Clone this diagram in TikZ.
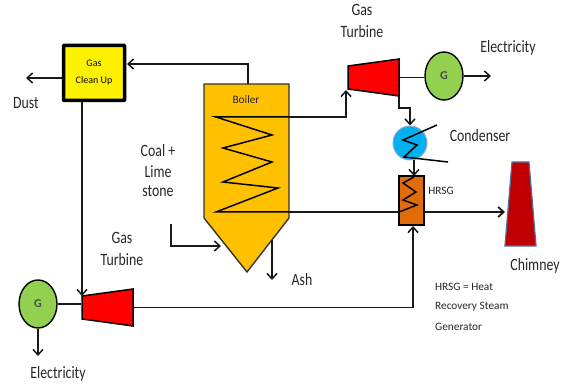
\documentclass[tikz,border=0pt]{standalone}
\usepackage{fontspec}
\setmainfont{Carlito}
\newfontfamily\narrowfont[FakeStretch=0.8]{Carlito}
\usetikzlibrary{positioning, arrows.meta, shapes.geometric}

\definecolor{boilerorange}{HTML}{FFC000}
\definecolor{hrsgorange}{HTML}{E36C0A}
\definecolor{genGreen}{HTML}{92D050}
\definecolor{condBlue}{HTML}{00B0F0}
\definecolor{stackRed}{HTML}{C00000}
\definecolor{stackEdge}{HTML}{4F6F9F}
\definecolor{labelInk}{HTML}{262626}

\begin{document}
\begin{tikzpicture}[
    x=1pt, y=-1pt,
    label/.style={font=\narrowfont\fontsize{17.3}{20}\selectfont, text=labelInk, align=center, inner sep=0pt},
    small/.style={font=\fontsize{11.3}{13}\selectfont, text=labelInk, inner sep=0pt},
    turbine/.style={trapezium, draw=black, fill=red, line width=1.5pt, rotate=90, trapezium left angle=82.2, trapezium right angle=82.2, inner xsep=11.5pt, inner ysep=25.5pt},
    generator/.style={ellipse, draw=black, fill=genGreen, line width=1.4pt, minimum width=38pt, minimum height=48pt, inner sep=0pt, font=\fontsize{12}{14}\selectfont\bfseries, text=black!70},
    pipe/.style={line width=1.5pt, draw=black!90},
    arrow/.style={pipe, -{Straight Barb[length=5.5pt, width=10pt]}},
    coil/.style={line width=1.5pt, draw=black}
]
    \useasboundingbox (0,0) rectangle (568,387);

    % equipment
    \node [rectangle, draw=black, fill=yellow, line width=3.5pt, rounded corners=0.5pt, minimum width=61pt, minimum height=55pt, inner sep=0pt, align=center, font=\fontsize{10}{17}\selectfont] (cleanup) at (94,73) {Gas\\Clean Up};
    \draw [draw=black!80, fill=boilerorange, line width=1.4pt] (204,84) coordinate (boilerTL) -- (248,84) coordinate (boilerOut) -- (289,84) coordinate (boilerTR) -- (289,218) -- (247,272) coordinate (boilerTip) -- (204,218) -- cycle;
    \node [small] (boiler) at (246,100) {Boiler};
    \node [turbine] (turbineA) at (373.5,77.5) {};
    \node [turbine] (turbineB) at (107.5,307.5) {};
    \node [generator] (genA) at (444,76) {G};
    \node [generator] (genB) at (38,304) {G};
    \node [circle, draw=stackEdge!60, fill=condBlue, line width=1pt, minimum size=34pt, inner sep=0pt] (condenser) at (410,143) {};
    \node [rectangle, draw=black, fill=hrsgorange, line width=1.4pt, minimum width=25pt, minimum height=49pt, inner sep=0pt] (hrsg) at (411.5,200.5) {};
    \node [trapezium, draw=stackEdge, fill=stackRed, line width=1.2pt, trapezium left angle=85.2, trapezium right angle=85.2, inner xsep=8.5pt, inner ysep=42pt] (chimney) at (520.5,204) {};

    % free ends
    \coordinate (dustEnd) at (26,78);
    \coordinate (elecA) at (491,76);
    \coordinate (elecB) at (38,356);
    \coordinate (ashStart) at (272,240);
    \coordinate (ashEnd) at (272,280);
    \coordinate (coalStart) at (171,224);
    \coordinate (coalEnd) at (221,246);
    \coordinate (coilTop) at (289,117);
    \coordinate (coilBottom) at (289,212);
    \coordinate (cleanIn) at (127,64);
    \coordinate (cleanOut) at (82,102);
    \coordinate (bottomIn) at (82,296);
    \coordinate (hrsgIn) at (413,226);
    \coordinate (hrsgOut) at (424,212);
    \coordinate (hrsgLeft) at (399,212);
    \coordinate (stackIn) at (505,212);
    \coordinate (turbAin) at (346,90);
    \coordinate (turbAout) at (399,96);
    \coordinate (condOut) at (414,160);
    \coordinate (hrsgTop) at (414,176);

    % coils
    \draw [coil] (coilTop) -- (216,117) -- (272,135) -- (223,148) -- (272,162) -- (223,182) -- (278,188) -- (216,212) -- (coilBottom);
    \draw [coil] (437,125) -- (403,140) -- (417,145) -- (404,157) -- (448,162);
    \draw [coil] (414,177) -- (403,183) -- (416,192) -- (403,200) -- (417,205) -- (hrsgLeft);

    % connectors
    \draw [arrow] (cleanup.west |- dustEnd) -- (dustEnd);
    \draw [arrow] (boilerOut) |- (cleanIn);
    \draw [arrow] (coilTop) -| (turbAin);
    \draw [arrow] (turbAout) -- (399,108) -- (410,108) -- (condenser.north);
    \draw [arrow] (condOut) -- (hrsgTop);
    \draw [pipe] (turbineA.south) -- (turbineA.south -| genA.west);
    \draw [arrow] (genA.east) -- (elecA);
    \draw [pipe] (coilBottom) -- (hrsgLeft);
    \draw [arrow, line width=1.8pt] (hrsgOut) -- (stackIn);
    \draw [arrow] (ashStart) -- (ashEnd);
    \draw [arrow] (coalStart) |- (coalEnd);
    \draw [arrow] (cleanOut) -- (bottomIn);
    \draw [pipe] (genB.east) -- (genB.east -| turbineB.north);
    \draw [arrow] (genB.south) -- (elecB);
    \draw [arrow] (turbineB.south) -| (hrsgIn);

    % labels
    \node [label] (dust) at (26,103) {Dust};
    \node [label] (coalA) at (158,151) {Coal +};
    \node [label] (coalB) at (158,172) {Lime};
    \node [label] (coalC) at (158,191) {stone};
    \node [label] (gasA) at (362,10) {Gas};
    \node [label] (turbA) at (362,32) {Turbine};
    \node [label] (gasB) at (122,238) {Gas};
    \node [label] (turbB) at (122,260) {Turbine};
    \node [label] (elecAText) at (508,48) {Electricity};
    \node [label] (elecBText) at (58,374) {Electricity};
    \node [label] (condText) at (480,136) {Condenser};
    \node [label] (ash) at (302,280) {Ash};
    \node [label] (chimText) at (535,266) {Chimney};
    \node [small] (hrsgText) at (441,191) {HRSG};
    \node [small, anchor=west] (noteA) at (435,287) {HRSG = Heat};
    \node [small, anchor=west] (noteB) at (435,307) {Recovery Steam};
    \node [small, anchor=west] (noteC) at (435,327) {Generator};
\end{tikzpicture}
\end{document}
